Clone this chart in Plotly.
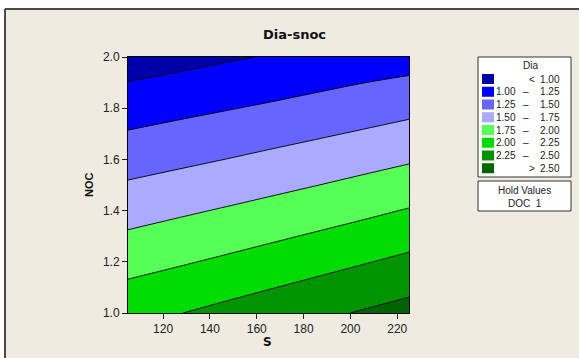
import plotly.graph_objects as go

# ---- data ----
S_vals = [105, 125, 145, 165, 185, 205, 225]
NOC_vals = [1.0, 1.2, 1.4, 1.6, 1.8, 2.0]
Dia_noc10 = [2.173, 2.238, 2.308, 2.379, 2.449, 2.518, 2.588]
Dia_noc12 = [1.911, 1.970, 2.032, 2.097, 2.165, 2.234, 2.304]
Dia_noc14 = [1.654, 1.709, 1.765, 1.823, 1.883, 1.947, 2.015]
Dia_noc16 = [1.396, 1.446, 1.497, 1.552, 1.607, 1.665, 1.724]
Dia_noc18 = [1.141, 1.187, 1.233, 1.280, 1.331, 1.383, 1.438]
Dia_noc20 = [0.870, 0.918, 0.967, 1.015, 1.062, 1.110, 1.144]

levels_lo = ["", "1.00", "1.25", "1.50", "1.75", "2.00", "2.25", ""]
levels_hi = ["1.00", "1.25", "1.50", "1.75", "2.00", "2.25", "2.50", "2.50"]
level_sym = ["<", "–", "–", "–", "–", "–", "–", ">"]
band_colors = ["#0000AA", "#0000FF", "#6666FF", "#AAAAFF",
               "#55FF55", "#00DD00", "#009500", "#006400"]

x_ticks = [120, 140, 160, 180, 200, 220]
y_ticks = [1.0, 1.2, 1.4, 1.6, 1.8, 2.0]

Z = [Dia_noc10, Dia_noc12, Dia_noc14, Dia_noc16, Dia_noc18, Dia_noc20]

W, H = 579, 358
L, R, T, B = 128, 409, 57, 313


def px(x):
    return (x - L) / (R - L)


def py(y):
    return (B - y) / (B - T)


n = len(band_colors)
cscale = [[i / (n - 1), c] for i, c in enumerate(band_colors)]

fig = go.Figure()
fig.add_trace(go.Contour(
    x=S_vals, y=NOC_vals, z=Z,
    autocontour=False,
    contours=dict(start=1.0, end=2.5, size=0.25, coloring="fill", showlines=True),
    line=dict(color="black", width=0.9),
    colorscale=cscale, showscale=False, hoverinfo="skip",
))

shapes = []
annotations = []
BEIGE = "#EFEBE0"
FONT = "Liberation Sans"

# white strips and frame border of the beige panel
shapes.append(dict(type="rect", xref="paper", yref="paper", layer="below",
                   x0=px(0), x1=px(W), y0=py(0), y1=py(8), fillcolor="white", line_width=0))
shapes.append(dict(type="rect", xref="paper", yref="paper", layer="below",
                   x0=px(0), x1=px(4), y0=py(0), y1=py(H), fillcolor="white", line_width=0))
shapes.append(dict(type="line", xref="paper", yref="paper", layer="below",
                   x0=px(5), x1=px(W + 2), y0=py(9), y1=py(9), line=dict(color="#4a4a4a", width=2)))
shapes.append(dict(type="line", xref="paper", yref="paper", layer="below",
                   x0=px(5), x1=px(5), y0=py(9), y1=py(H + 2), line=dict(color="#4a4a4a", width=2)))

# legend box
shapes.append(dict(type="rect", xref="paper", yref="paper",
                   x0=px(478), x1=px(571), y0=py(57), y1=py(177),
                   fillcolor="white", line=dict(color="#333", width=1)))
annotations.append(dict(xref="paper", yref="paper", x=px(530), y=py(65), text="Dia",
                        showarrow=False, xanchor="center", yanchor="middle",
                        font=dict(family=FONT, size=10, color="#222")))
row_y0, row_dy = 79, 12.75
for i in range(n):
    yc = row_y0 + i * row_dy
    shapes.append(dict(type="rect", xref="paper", yref="paper",
                       x0=px(482), x1=px(494), y0=py(yc - 5), y1=py(yc + 5),
                       fillcolor=band_colors[i], line_width=0))
    if levels_lo[i]:
        annotations.append(dict(xref="paper", yref="paper", x=px(518), y=py(yc),
                                text=levels_lo[i], showarrow=False, xanchor="right",
                                yanchor="middle", font=dict(family=FONT, size=10, color="#222")))
    sx = 526 if level_sym[i] == "–" else 532
    annotations.append(dict(xref="paper", yref="paper", x=px(sx), y=py(yc),
                            text=level_sym[i], showarrow=False, xanchor="center",
                            yanchor="middle", font=dict(family=FONT, size=10, color="#222")))
    annotations.append(dict(xref="paper", yref="paper", x=px(562), y=py(yc),
                            text=levels_hi[i], showarrow=False, xanchor="right",
                            yanchor="middle", font=dict(family=FONT, size=10, color="#222")))

# hold values box
shapes.append(dict(type="rect", xref="paper", yref="paper",
                   x0=px(478), x1=px(571), y0=py(181), y1=py(211),
                   fillcolor="white", line=dict(color="#333", width=1)))
annotations.append(dict(xref="paper", yref="paper", x=px(524.5), y=py(190), text="Hold Values",
                        showarrow=False, xanchor="center", yanchor="middle",
                        font=dict(family=FONT, size=10, color="#222")))
annotations.append(dict(xref="paper", yref="paper", x=px(524.5), y=py(203), text="DOC  1",
                        showarrow=False, xanchor="center", yanchor="middle",
                        font=dict(family=FONT, size=10, color="#222")))

# title and axis titles
annotations.append(dict(xref="paper", yref="paper", x=px(294.5), y=py(34), text="<b>Dia-snoc</b>",
                        showarrow=False, xanchor="center", yanchor="middle",
                        font=dict(family="DejaVu Sans", size=13, color="#111")))
annotations.append(dict(xref="paper", yref="paper", x=px(267), y=py(342), text="<b>S</b>",
                        showarrow=False, xanchor="center", yanchor="middle",
                        font=dict(family="DejaVu Sans", size=12, color="#111")))
annotations.append(dict(xref="paper", yref="paper", x=px(89), y=py(185), text="<b>NOC</b>",
                        showarrow=False, xanchor="center", yanchor="middle", textangle=-90,
                        font=dict(family=FONT, size=11, color="#111")))

axis_common = dict(showgrid=False, zeroline=False, showline=True, linecolor="black",
                   linewidth=1, mirror=True, ticks="outside", ticklen=5, tickcolor="#222",
                   tickfont=dict(family=FONT, size=12, color="#222"))

fig.update_layout(
    width=W, height=H,
    margin=dict(l=L, r=W - R, t=T, b=H - B, pad=0),
    paper_bgcolor=BEIGE, plot_bgcolor=BEIGE,
    xaxis=dict(range=[105, 225], tickvals=x_ticks, **axis_common),
    yaxis=dict(range=[1.0, 2.0], tickvals=y_ticks, tickformat=".1f", **axis_common),
    shapes=shapes, annotations=annotations, showlegend=False,
)

fig.write_html("out.html", config={"displayModeBar": False},
               post_script="document.body.style.margin='0';document.body.style.overflow='hidden';")
